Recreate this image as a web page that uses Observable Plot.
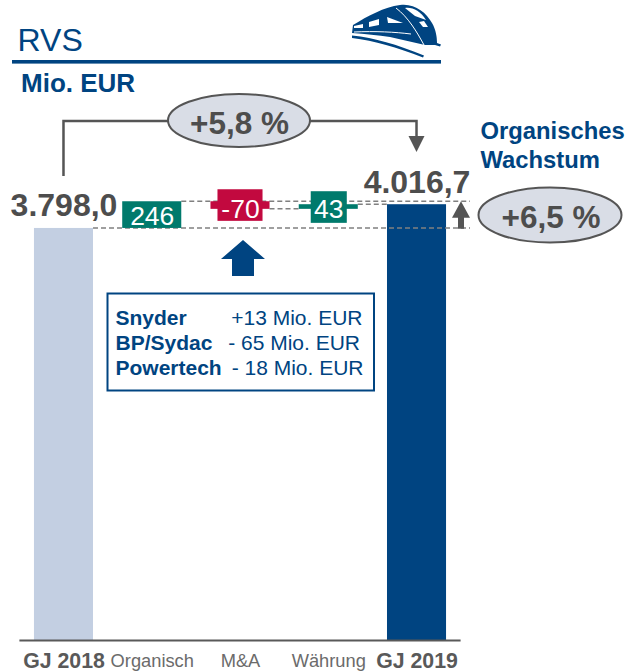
<!DOCTYPE html>
<html><head><meta charset="utf-8">
<style>html,body{margin:0;padding:0;background:#fff}</style>
<script src="https://cdn.jsdelivr.net/npm/d3@7"></script>
<script src="https://cdn.jsdelivr.net/npm/@observablehq/plot@0.6"></script>
</head><body><div id="chart"></div>
<script>
const categories = ["GJ 2018","Organisch","M&A","Währung","GJ 2019"];
const starts = [0,3798,4044,3974,0];
const ends = [3798,4044,3974,4016.7,4016.7];
const barLabels = ["3.798,0","246","-70","43","4.016,7"];
const details = ["Snyder","BP/Sydac","Powertech"];
const detailValues = ["+13 Mio. EUR","- 65 Mio. EUR","- 18 Mio. EUR"];
const barColors = ["#c3cfe2","#007a6c","#c2093f","#007a6c","#004481"];

const BLUE="#004481", GREY="#4d4d4d", ML=19.4;
const font="Liberation Sans, Arial, sans-serif";
const rows = categories.map((c,i)=>({c,a:starts[i],b:ends[i],label:barLabels[i],color:barColors[i]}));
const totals = rows.filter((d,i)=>i===0||i===4);
const note=(s,px,py,o={})=>Plot.text([s],{text:d=>d,frameAnchor:"top-left",dx:px-ML,dy:py,lineAnchor:"bottom",textAnchor:"start",fontFamily:font,...o});
const S=n=>document.createElementNS("http://www.w3.org/2000/svg",n);
const el=(g,n,a)=>{const e=S(n);for(const k in a)e.setAttribute(k,a[k]);g.appendChild(e);return e;};

const dashes=(i,{x,y})=>{
  const g=S("g"),bw=x.bandwidth();
  const seg=(x1,x2,v)=>el(g,"line",{x1,x2,y1:y(v),y2:y(v),stroke:"#808080","stroke-width":1.5,"stroke-dasharray":"5,3"});
  seg(x(categories[0])+bw,470,starts[1]);
  seg(x(categories[1])+bw,470,ends[1]);
  seg(x(categories[2])+bw,x(categories[3]),ends[2]);
  seg(x(categories[3])+bw,x(categories[4]),ends[3]);
  return g;
};
const annotations=(i,{x,y})=>{
  const g=S("g"),bw=x.bandwidth();
  const cx0=x(categories[0])+bw/2,cx4=x(categories[4])+bw/2;
  el(g,"path",{d:`M${cx0},176V121H${cx4}V138`,fill:"none",stroke:"#555","stroke-width":2.5});
  el(g,"path",{d:`M${cx4-8},136H${cx4+8}L${cx4},152Z`,fill:"#555"});
  el(g,"ellipse",{cx:239,cy:120.5,rx:71,ry:26.5,fill:"#d9dde6",stroke:"#555","stroke-width":2});
  el(g,"ellipse",{cx:550,cy:215,rx:71.5,ry:27.5,fill:"#d9dde6",stroke:"#555","stroke-width":2});
  el(g,"path",{d:`M461,${y(ends[1])}l9,16.5h-6v11h-6v-11h-6Z`,fill:"#555"});
  el(g,"path",{d:"M243,240L265,259H254V276H232V259H221Z",fill:BLUE});
  el(g,"rect",{x:107.5,y:293.5,width:266.5,height:97,fill:"#fff",stroke:BLUE,"stroke-width":2});
  el(g,"rect",{x:12,y:60,width:429,height:3.6,fill:BLUE});
  // train pictogram
  el(g,"path",{d:"M353,25C368,16 384,7 400,5C414,3 426,12 432,23C436,30 437,37 437,43L441,44.5L440,46.5L435,45C431,45 428,45 425,45L390,37C378,35 365,34 352,33Z",fill:BLUE});
  el(g,"path",{d:"M352,35.5C375,38 396,44 424,55.5L423,57.5C396,47 375,41 352,38Z",fill:BLUE});
  el(g,"path",{d:"M405,8C413,7 420,11 426,20L415,16Z",fill:"#fff"});
  el(g,"path",{d:"M387,17L403,23L388,23Z",fill:"#fff"});
  el(g,"path",{d:"M369,22L379,19V25L369,27Z",fill:"#fff"});
  el(g,"path",{d:"M354,26L363,24V28L354,28Z",fill:"#fff"});
  el(g,"path",{d:"M419,22L424,21L428,27L423,27Z",fill:"#fff"});
  el(g,"path",{d:"M354,32C375,31 395,32 411,34",fill:"none",stroke:"#fff","stroke-width":1});
  el(g,"path",{d:"M396,8C408,17 417,32 424,45",fill:"none",stroke:"#fff","stroke-width":1});
  return g;
};

const detailEnds=[362,359.5,363];
const plot=Plot.plot({
  width:629,height:671,marginLeft:ML,marginRight:168.4,marginTop:0,marginBottom:31,
  style:{fontFamily:font,background:"#fff"},
  x:{domain:categories,type:"band",paddingInner:.331,paddingOuter:.165,round:false,axis:null},
  y:{domain:[0,5899],axis:null},
  marks:[
    Plot.barY(totals,{x:"c",y1:"a",y2:"b",fill:"color"}),
    dashes,
    Plot.barY(rows.slice(1,4),{x:"c",y1:"a",y2:"b",fill:"color"}),
    Plot.barY([rows[2]],{x:"c",y1:"a",y2:"b",fill:"color",insetLeft:7,insetRight:7,insetTop:-12,insetBottom:-12}),
    Plot.barY([rows[3]],{x:"c",y1:"a",y2:"b",fill:"color",insetLeft:12,insetRight:11,insetTop:-13,insetBottom:-14}),
    Plot.ruleY([0],{stroke:"#595959",strokeWidth:2}),
    annotations,
    Plot.text(totals,{x:"c",y:"b",text:"label",dy:-12,lineAnchor:"bottom",fontSize:32,fontWeight:"bold",fill:GREY}),
    Plot.text([rows[1]],{x:"c",y:"b",text:"label",dy:23,lineAnchor:"bottom",fontSize:26.5,fill:"#fff"}),
    Plot.text([rows[2]],{x:"c",y:"a",text:"label",dy:16,lineAnchor:"bottom",fontSize:26.5,fill:"#fff"}),
    Plot.text([rows[3]],{x:"c",y:"b",text:"label",dy:13,lineAnchor:"bottom",fontSize:26.5,fill:"#fff"}),
    Plot.text(rows.filter((d,i)=>i%4===0),{x:"c",y:0,text:"c",dy:27,lineAnchor:"bottom",fontSize:21.3,fontWeight:"bold",fill:"#595959"}),
    Plot.text(rows.slice(1,4),{x:"c",y:0,text:"c",dy:26,lineAnchor:"bottom",fontSize:18.3,fill:"#6b6b6b"}),
    note("RVS",17,50,{fontSize:32,fill:BLUE}),
    note("Mio. EUR",20.5,91,{fontSize:26,fontWeight:"bold",fill:BLUE}),
    note("Organisches",480,138,{fontSize:23.8,fontWeight:"bold",fill:BLUE}),
    note("Wachstum",480,167,{fontSize:23.8,fontWeight:"bold",fill:BLUE}),
    note("+5,8 %",239,133,{fontSize:31.5,fontWeight:"bold",fill:GREY,textAnchor:"middle"}),
    note("+6,5 %",550.5,227,{fontSize:31.5,fontWeight:"bold",fill:GREY,textAnchor:"middle"}),
    ...details.map((d,i)=>note(d,115,324+25*i,{fontSize:21,fontWeight:"bold",fill:BLUE})),
    ...detailValues.map((d,i)=>note(d,detailEnds[i],324+25*i,{fontSize:21,fill:BLUE,textAnchor:"end"}))
  ]
});
document.getElementById("chart").appendChild(plot);
</script></body></html>
